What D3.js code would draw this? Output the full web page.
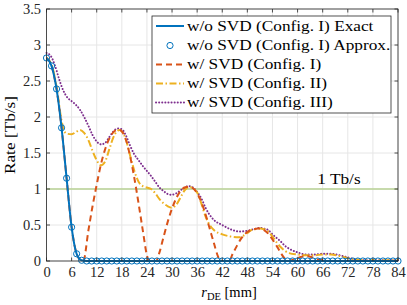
<!DOCTYPE html>
<html><head><meta charset="utf-8">
<script src="https://cdn.jsdelivr.net/npm/d3@7"></script>
<style>body{margin:0;background:#fff}</style>
</head><body><svg id="c" width="407" height="305"></svg>
<script>
const xTicks = [0,6,12,18,24,30,36,42,48,54,60,66,72,78,84];
const yTicks = [0,0.5,1,1.5,2,2.5,3,3.5];
const yTickLabels = ["0","0.5","1","1.5","2","2.5","3","3.5"];
const legendLabels = ["w/o SVD (Config. I) Exact","w/o SVD (Config. I) Approx.","w/ SVD (Config. I)","w/ SVD (Config. II)","w/ SVD (Config. III)"];

// w/o SVD (Config. I): sampled every 1.2 mm
const xNoSvd = [0,1.2,2.4,3.6,4.8,6,7.2,8.4,9.6,10.8,12,13.2,14.4,15.6,16.8,18,19.2,20.4,21.6,22.8,24,25.2,26.4,27.6,28.8,30,31.2,32.4,33.6,34.8,36,37.2,38.4,39.6,40.8,42,43.2,44.4,45.6,46.8,48,49.2,50.4,51.6,52.8,54,55.2,56.4,57.6,58.8,60,61.2,62.4,63.6,64.8,66,67.2,68.4,69.6,70.8,72,73.2,74.4,75.6,76.8,78,79.2,80.4,81.6,82.8,84];
const yNoSvd = [2.82,2.71,2.39,1.85,1.15,0.47,0.10,0.01,0,0,0,0,0,0,0,0,0,0,0,0,0,0,0,0,0,0,0,0,0,0,0,0,0,0,0,0,0,0,0,0,0,0,0,0,0,0,0,0,0,0,0,0,0,0,0,0,0,0,0,0,0,0,0,0,0,0,0,0,0,0,0];

// w/ SVD (Config. I)
const xCfg1 = [0,1.2,2.4,3.6,4.8,6,7.2,8.2,8.8,10,11,12,13,14,15,16,17,17.5,18,19,20,21,22,23,24,24.5,26.2,27,28,29,30,31,32,33,34,35,36,37,38,39,40,41,41.6,43.6,44.5,45.5,46.5,47.5,48.5,49.5,50.5,51.2,52,53,54,55,56,57,58,59,60,61,62,63,64,65,66,67,84];
const yCfg1 = [2.82,2.71,2.39,1.85,1.15,0.47,0.10,0.01,0,0.42,0.76,1.06,1.34,1.55,1.70,1.79,1.82,1.82,1.80,1.68,1.45,1.15,0.80,0.43,0.08,0,0,0.12,0.34,0.55,0.73,0.87,0.97,1.02,1.03,1.01,0.94,0.82,0.65,0.45,0.25,0.06,0,0,0.10,0.21,0.31,0.38,0.42,0.44,0.45,0.45,0.43,0.38,0.30,0.21,0.11,0.03,0,0.02,0.04,0.06,0.07,0.06,0.04,0.02,0.01,0,0];

// w/ SVD (Config. II)
const xCfg2 = [0,1.2,2.4,3.6,4.2,4.8,6,7,8,9,10,11,12,13,14,15,16,17,17.5,18,19,20,21,22,23,24,25,26,27,28,29,30,31,32,33,34,35,36,37,38,39,40,42,44,46,47,48,49,51,52,53,54,55,56,57,58,60,62,64,66,68,70,72,74,76,84];
const yCfg2 = [2.82,2.73,2.42,1.95,1.81,1.77,1.76,1.79,1.82,1.78,1.68,1.53,1.40,1.33,1.38,1.55,1.72,1.81,1.82,1.80,1.68,1.46,1.25,1.10,1.04,1.02,1.00,0.94,0.86,0.80,0.76,0.74,0.78,0.88,0.98,1.03,1.01,0.95,0.80,0.62,0.50,0.43,0.37,0.34,0.33,0.35,0.39,0.43,0.45,0.44,0.41,0.34,0.26,0.19,0.14,0.11,0.09,0.08,0.08,0.09,0.09,0.07,0.04,0.02,0.01,0.01];

// w/ SVD (Config. III)
const xCfg3 = [0,1,2,3,4,5,6,7,8,9,10,11,12,13,14,15,16,17,18,19,20,21,22,23,24,25,26,27,28,29,30,31,32,33,34,35,36,37,38,39,40,42,44,46,48,50,51,52,53,54,55,56,57,58,60,62,64,66,68,70,72,74,76,84];
const yCfg3 = [2.89,2.85,2.72,2.53,2.37,2.27,2.22,2.17,2.10,2.00,1.88,1.75,1.66,1.62,1.64,1.72,1.80,1.84,1.83,1.74,1.60,1.48,1.40,1.32,1.25,1.18,1.10,1.02,0.97,0.93,0.92,0.94,0.98,1.02,1.04,1.02,0.96,0.87,0.74,0.64,0.57,0.50,0.44,0.41,0.42,0.45,0.46,0.45,0.43,0.37,0.32,0.27,0.21,0.17,0.12,0.09,0.09,0.10,0.10,0.08,0.05,0.02,0.01,0.01];

const threshold = 1;
const thresholdLabel = "1 Tb/s";

const FONT = "'Liberation Serif', 'DejaVu Serif', serif";
const STRETCH = 1.19;
const C = {blue:"#0072BD", orange:"#D95319", yellow:"#EDB120", purple:"#7E2F8E", green:"#b9d294", axis:"#262626", grid:"#e6e6e6"};
const svg = d3.select("#c");
const L=46.5, R=398, T=9, B=261;
const x = d3.scaleLinear().domain([0,84]).range([L,R]);
const y = d3.scaleLinear().domain([0,3.5]).range([B,T]);

const g = svg.append("g");
g.selectAll(".gx").data(xTicks).join("line").attr("x1",d=>x(d)).attr("x2",d=>x(d)).attr("y1",T).attr("y2",B).attr("stroke",C.grid).attr("stroke-width",1);
g.selectAll(".gy").data(yTicks).join("line").attr("y1",d=>y(d)).attr("y2",d=>y(d)).attr("x1",L).attr("x2",R).attr("stroke",C.grid).attr("stroke-width",1);

svg.append("line").attr("x1",L).attr("x2",R).attr("y1",y(threshold)).attr("y2",y(threshold)).attr("stroke",C.green).attr("stroke-width",1.3);

const line = (xs,ys)=>d3.line().x((d,i)=>x(xs[i])).y(d=>y(d)).curve(d3.curveMonotoneX)(ys);
svg.append("path").attr("d",line(xCfg3,yCfg3)).attr("fill","none").attr("stroke",C.purple).attr("stroke-width",2).attr("stroke-dasharray","0.1,3").attr("stroke-linecap","round");
svg.append("path").attr("d",line(xCfg2,yCfg2)).attr("fill","none").attr("stroke",C.yellow).attr("stroke-width",2).attr("stroke-dasharray","7,2.5,1.5,2.5");
svg.append("path").attr("d",line(xCfg1,yCfg1)).attr("fill","none").attr("stroke",C.orange).attr("stroke-width",2).attr("stroke-dasharray","6,4");
svg.append("path").attr("d",line(xNoSvd,yNoSvd)).attr("fill","none").attr("stroke",C.blue).attr("stroke-width",2);
svg.selectAll(".m").data(yNoSvd).join("circle").attr("cx",(d,i)=>x(xNoSvd[i])).attr("cy",d=>y(d)).attr("r",3.1).attr("fill","none").attr("stroke",C.blue).attr("stroke-width",1);

const ax = svg.append("g");
ax.append("rect").attr("x",L).attr("y",T).attr("width",R-L).attr("height",B-T).attr("fill","none").attr("stroke",C.axis).attr("stroke-width",0.8);
const xA = d3.axisBottom(x).tickValues(xTicks).tickSize(0).tickPadding(6).tickFormat(d3.format("d"));
const xg = svg.append("g").attr("transform",`translate(0,${B})`).call(xA);
xg.select(".domain").remove();
xg.selectAll("text").attr("font-size",14.5).attr("fill",C.axis).attr("dy","0.72em");
const yA = d3.axisLeft(y).tickValues(yTicks).tickSize(0).tickPadding(5.5).tickFormat((d,i)=>yTickLabels[i]);
const yg = svg.append("g").attr("transform",`translate(${L},0)`).call(yA);
yg.select(".domain").remove();
yg.selectAll("text").attr("font-size",14.5).attr("fill",C.axis);
const tl=3.5;
ax.selectAll(".tb").data(xTicks).join("line").attr("x1",d=>x(d)).attr("x2",d=>x(d)).attr("y1",B).attr("y2",B-tl).attr("stroke",C.axis).attr("stroke-width",0.8);
ax.selectAll(".tt").data(xTicks).join("line").attr("x1",d=>x(d)).attr("x2",d=>x(d)).attr("y1",T).attr("y2",T+tl).attr("stroke",C.axis).attr("stroke-width",0.8);
ax.selectAll(".tl").data(yTicks).join("line").attr("y1",d=>y(d)).attr("y2",d=>y(d)).attr("x1",L).attr("x2",L+tl).attr("stroke",C.axis).attr("stroke-width",0.8);
ax.selectAll(".tr").data(yTicks).join("line").attr("y1",d=>y(d)).attr("y2",d=>y(d)).attr("x1",R).attr("x2",R-tl).attr("stroke",C.axis).attr("stroke-width",0.8);

const stretched = [];
const xl = svg.append("text").attr("x",229).attr("y",297).attr("text-anchor","middle").attr("font-size",14.5);
xl.append("tspan").attr("font-style","italic").text("r");
xl.append("tspan").attr("font-size",10.5).attr("dy",3).text("DE");
xl.append("tspan").attr("dy",-3).text(" [mm]");
stretched.push(svg.append("text").attr("transform",`translate(15,${(T+B)/2}) rotate(-90)`).attr("text-anchor","middle").attr("font-size",14.5).text("Rate [Tb/s]"));
stretched.push(svg.append("text").attr("x",339).attr("y",183.5).attr("text-anchor","middle").attr("font-size",14.5).text(thresholdLabel));

const lg = svg.append("g");
lg.append("rect").attr("x",152).attr("y",16).attr("width",239).attr("height",97).attr("fill","#fff").attr("stroke",C.axis).attr("stroke-width",0.8);
const rows=[26,45.5,64.5,83.5,102.5];
const styles=[{c:C.blue,d:null},{c:C.blue,m:true},{c:C.orange,d:"6,4"},{c:C.yellow,d:"7,2.5,1.5,2.5"},{c:C.purple,d:"0.1,3",cap:"round"}];
legendLabels.forEach((t,i)=>{
  const s=styles[i];
  if(s.m){lg.append("circle").attr("cx",170).attr("cy",rows[i]).attr("r",3.1).attr("fill","none").attr("stroke",s.c).attr("stroke-width",1);}
  else{const l=lg.append("line").attr("x1",156).attr("x2",184).attr("y1",rows[i]).attr("y2",rows[i]).attr("stroke",s.c).attr("stroke-width",2);
    if(s.d) l.attr("stroke-dasharray",s.d); if(s.cap) l.attr("stroke-linecap",s.cap);}
  stretched.push(lg.append("text").attr("x",187).attr("y",rows[i]).attr("dy","0.33em").attr("font-size",14.5).text(t));
});

svg.selectAll("text").attr("font-family",FONT).style("font-family",FONT);
svg.selectAll("g").attr("font-family",FONT);
stretched.forEach(s=>{const w=s.node().getComputedTextLength(); s.attr("textLength",w*STRETCH).attr("lengthAdjust","spacingAndGlyphs");});
</script></body></html>
